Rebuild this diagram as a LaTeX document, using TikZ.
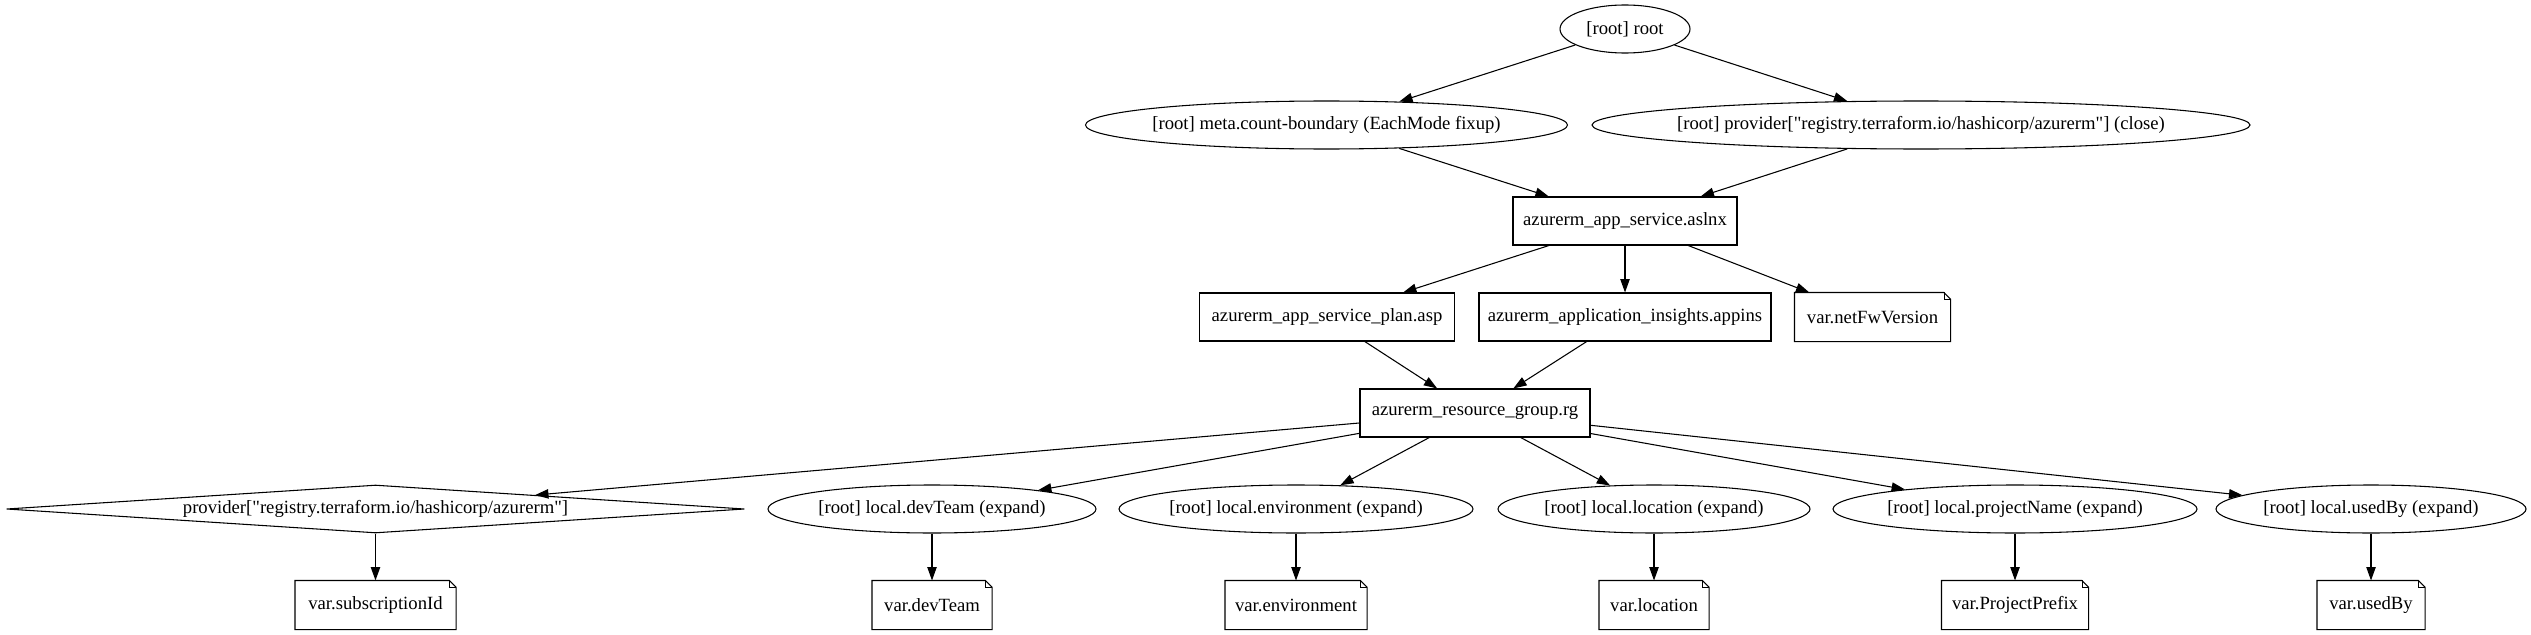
\documentclass[tikz,border=0pt]{standalone}
\usepackage{fontspec}
\newfontfamily\gvfont{Liberation Serif}
\usetikzlibrary{arrows.meta,shapes.geometric}
\newcommand{\zw}[1]{\makebox[0pt]{#1}}
\newcommand{\drawnote}[1]{%
  \draw[line width=0.8pt] (#1.south west) -- (#1.north west) -- ([xshift=-5pt]#1.north east) -- ([yshift=-5pt]#1.north east) -- (#1.south east) -- cycle;
  \draw[line width=0.5pt] ([xshift=-5pt]#1.north east) -- ([xshift=-5pt,yshift=-5pt]#1.north east) -- ([yshift=-5pt]#1.north east);}
\tikzset{
  base/.style={inner sep=0pt, minimum height=36pt, line width=0.8pt, font=\gvfont\fontsize{14pt}{16pt}\selectfont},
  ell/.style={base, ellipse, draw, minimum width=0.75pt*#1},
  rbox/.style={base, rectangle, draw, minimum width=0.75pt*#1},
  notebox/.style={base, rectangle, minimum width=0.75pt*#1},
  dia/.style={base, diamond, draw, aspect=1, minimum width=0.75pt*#1},
  edge/.style={line width=0.8pt, -{Triangle[length=10pt,width=7pt]}}
}
\begin{document}
\begin{tikzpicture}[x=0.75pt,y=-0.75pt]
\useasboundingbox (0,0) rectangle (2531,635);
% row 1
\node[ell=130] (root) at (1625,29) {\zw{[root] root}};
% row 2
\node[ell=482] (meta) at (1326.5,125) {\zw{[root] meta.count-boundary (EachMode fixup)}};
\node[ell=658] (pclose) at (1921,125) {\zw{[root] provider["registry.terraform.io/hashicorp/azurerm"] (close)}};
% row 3
\node[rbox=224] (aslnx) at (1625,221) {\zw{azurerm\_app\_service.aslnx}};
% row 4
\node[rbox=255] (plan) at (1327,317) {\zw{azurerm\_app\_service\_plan.asp}};
\node[rbox=292] (insights) at (1625,317) {\zw{azurerm\_application\_insights.appins}};
\node[notebox=155] (netfw) at (1872.5,317) {\zw{var.netFwVersion}};
% row 5
\node[rbox=230] (rg) at (1475,413) {\zw{azurerm\_resource\_group.rg}};
% row 6
\node[dia=738] (prov) at (375.5,509) {\zw{provider["registry.terraform.io/hashicorp/azurerm"]}};
\node[ell=328] (ldev) at (932,509) {\zw{[root] local.devTeam (expand)}};
\node[ell=354] (lenv) at (1296,509) {\zw{[root] local.environment (expand)}};
\node[ell=312] (lloc) at (1654,509) {\zw{[root] local.location (expand)}};
\node[ell=364] (lproj) at (2015,509) {\zw{[root] local.projectName (expand)}};
\node[ell=310] (lused) at (2371,509) {\zw{[root] local.usedBy (expand)}};
% row 7
\node[notebox=160] (vsub) at (375.5,605) {\zw{var.subscriptionId}};
\node[notebox=119] (vdev) at (932,605) {\zw{var.devTeam}};
\node[notebox=141] (venv) at (1296,605) {\zw{var.environment}};
\node[notebox=109] (vloc) at (1654,605) {\zw{var.location}};
\node[notebox=146] (vproj) at (2015,605) {\zw{var.ProjectPrefix}};
\node[notebox=107] (vused) at (2371,605) {\zw{var.usedBy}};
\drawnote{netfw}
\drawnote{vsub}
\drawnote{vdev}
\drawnote{venv}
\drawnote{vloc}
\drawnote{vproj}
\drawnote{vused}
% edges
\draw[edge] (root) -- (meta);
\draw[edge] (root) -- (pclose);
\draw[edge] (meta) -- (aslnx);
\draw[edge] (pclose) -- (aslnx);
\draw[edge] (aslnx) -- (plan);
\draw[edge] (aslnx) -- (insights);
\draw[edge] (aslnx) -- (netfw);
\draw[edge] (plan) -- (rg);
\draw[edge] (insights) -- (rg);
\draw[edge] (rg) -- (prov);
\draw[edge] (rg) -- (ldev);
\draw[edge] (rg) -- (lenv);
\draw[edge] (rg) -- (lloc);
\draw[edge] (rg) -- (lproj);
\draw[edge] (rg) -- (lused);
\draw[edge] (prov) -- (vsub);
\draw[edge] (ldev) -- (vdev);
\draw[edge] (lenv) -- (venv);
\draw[edge] (lloc) -- (vloc);
\draw[edge] (lproj) -- (vproj);
\draw[edge] (lused) -- (vused);
\end{tikzpicture}
\end{document}
